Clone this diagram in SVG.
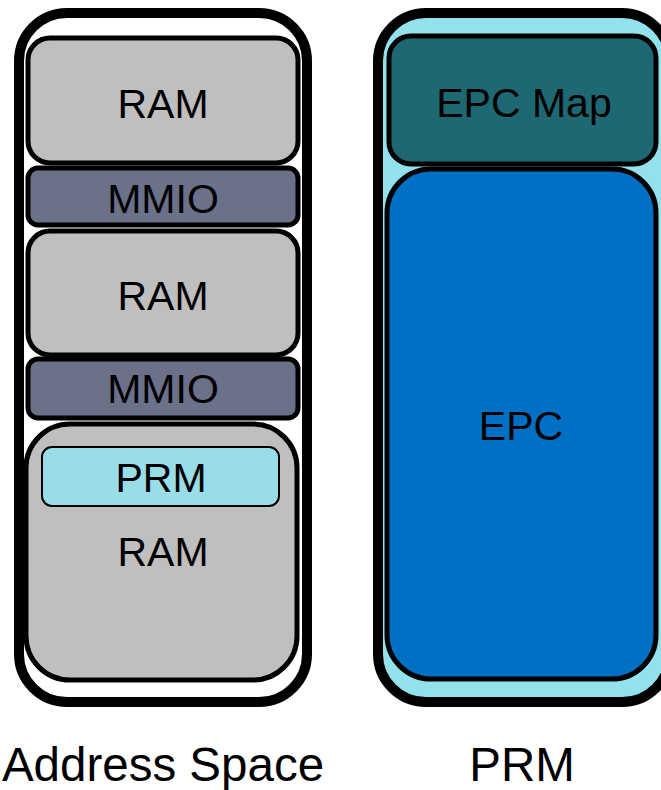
<svg xmlns="http://www.w3.org/2000/svg" width="661" height="790" viewBox="0 0 661 790">
<style>
text{font-family:"Liberation Sans",Arial,sans-serif;font-size:41px;fill:#000;text-anchor:middle}
.outer{stroke:#000;stroke-width:10}
.box{stroke:#000;stroke-width:5}
.ram{fill:#bfbfbf}
.mmio{fill:#6b7189}
.lbl{font-size:47.5px}
</style>
<g id="address-space">
<rect class="outer" x="19" y="13" width="288" height="689" rx="48" fill="#fff"/>
</g>
<g id="ram1"><rect class="box ram" x="28" y="38" width="270" height="125" rx="22"/><text x="163" y="118">RAM</text></g>
<g id="mmio1"><rect class="box mmio" x="28" y="168" width="270" height="57" rx="10"/><text x="163" y="213">MMIO</text></g>
<g id="ram2"><rect class="box ram" x="28" y="231" width="270" height="124" rx="22"/><text x="163" y="310">RAM</text></g>
<g id="mmio2"><rect class="box mmio" x="28" y="359" width="270" height="59" rx="10"/><text x="163" y="403">MMIO</text></g>
<g id="ram3"><rect class="box ram" x="26" y="424" width="271" height="256" rx="44"/><text x="163" y="566">RAM</text></g>
<g id="prm-region"><rect x="42" y="447" width="237" height="59" rx="10" fill="#99dde8" stroke="#000" stroke-width="2"/><text x="161" y="492">PRM</text></g>
<g id="prm">
<rect class="outer" x="378" y="13" width="292" height="689" rx="48" fill="#94e1ee"/>
</g>
<g id="epc-map"><rect class="box" x="389" y="36" width="267" height="128" rx="22" fill="#1e6873"/><text x="524" y="117">EPC Map</text></g>
<g id="epc"><rect class="box" x="387" y="169" width="269" height="510" rx="44" fill="#0070c4"/><text x="521" y="440">EPC</text></g>
<g id="labels">
<text class="lbl" x="163" y="781">Address Space</text>
<text class="lbl" x="522" y="781">PRM</text>
</g>
<g id="connectors"/>
</svg>
